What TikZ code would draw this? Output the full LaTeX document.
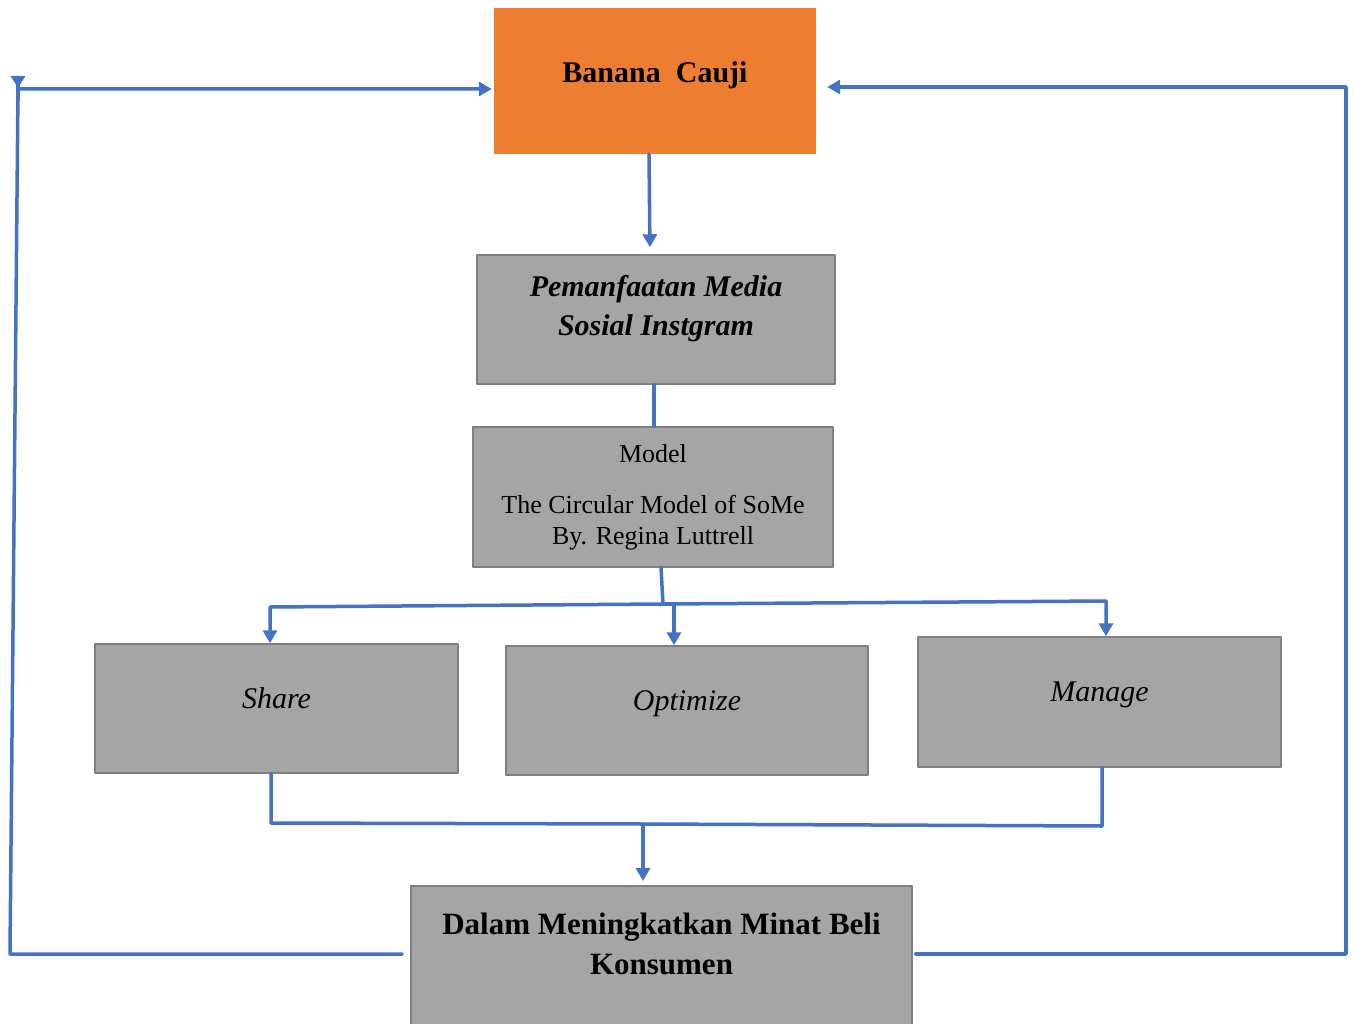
\documentclass[tikz,border=0pt]{standalone}
\usepackage{fontspec}
\setmainfont{Liberation Serif}
\usepackage{tikz}
\usetikzlibrary{arrows.meta}

\definecolor{boxorange}{HTML}{ED7D31}
\definecolor{boxgray}{HTML}{A5A5A5}
\definecolor{boxedge}{HTML}{7F7F7F}
\definecolor{lineblue}{HTML}{4472C4}

\begin{document}
\begin{tikzpicture}[x=1pt,y=-1pt,line cap=round,line join=round,
  topbox/.style={fill=boxorange,draw=none,minimum width=322pt,minimum height=146pt,
    font=\fontsize{30}{40}\selectfont\bfseries,text depth=18pt},
  graybox/.style={fill=boxgray,draw=boxedge,line width=1.5pt,align=center,
    font=\fontsize{30}{40}\selectfont},
  link/.style={draw=lineblue,line width=3.5pt},
  arr/.style={link,-{Triangle[width=14pt,length=13pt]}}]
\useasboundingbox (0,0) rectangle (1354,1024);
% boxes
\node[topbox] (banana) at (655,81) {Banana\ \ Cauji};
\node[graybox,minimum width=358pt,minimum height=129pt,text depth=28pt,
  font=\fontsize{30}{39}\selectfont\bfseries\itshape] (media) at (656,319.5)
  {Pemanfaatan Media\\Sosial Instgram};
\node[graybox,minimum width=360pt,minimum height=140pt,
  font=\fontsize{26}{31}\selectfont] (model) at (653,497)
  {Model\\[20pt]The Circular Model of SoMe\\By. Regina Luttrell};
\node[graybox,minimum width=363pt,minimum height=129pt,text depth=20pt,
  font=\fontsize{30}{40}\selectfont\itshape] (share) at (276.5,708.5) {Share};
\node[graybox,minimum width=362pt,minimum height=129pt,text depth=20pt,
  font=\fontsize{30}{40}\selectfont\itshape] (optimize) at (687,710.5) {Optimize};
\node[graybox,minimum width=363pt,minimum height=130pt,text depth=20pt,
  font=\fontsize{30}{40}\selectfont\itshape] (manage) at (1099.5,702) {Manage};
\node[graybox,anchor=north,minimum width=501pt,inner ysep=27pt,text depth=40pt,
  font=\fontsize{31}{40}\selectfont\bfseries] (minat) at (661.5,885)
  {Dalam Meningkatkan Minat Beli\\Konsumen};
% corner points
\coordinate (split) at (663,604);
\coordinate (sl) at (270,607);
\coordinate (so) at (674,604);
\coordinate (sr) at (1106,601);
\coordinate (bl) at (271,823);
\coordinate (bm) at (643,824);
\coordinate (br) at (1102,826);
\coordinate (ll) at (10,954);
\coordinate (lt) at (18,89);
\coordinate (rb) at (1346,954);
\coordinate (rt) at (1346,87);
% connectors
\draw[arr,shorten >=7pt] ([xshift=-6pt]banana.south) -- ([xshift=-6pt]media.north);
\draw[link] ([xshift=-2pt]media.south) -- ([xshift=1pt]model.north);
\draw[link] ([xshift=8pt]model.south) -- (split);
\draw[arr] (split) -- (sl) -- (sl |- share.north);
\draw[arr] (split) -- (so) -- (so |- optimize.north);
\draw[arr] (split) -- (sr) -- (sr |- manage.north);
\draw[link] (bl |- share.south) -- (bl) -- (bm) -- (br) -- (br |- manage.south);
\draw[arr,shorten >=4pt] (bm) -- (bm |- minat.north);
\draw[arr,shorten <=8pt,shorten >=2pt] (minat.west |- ll) -- (ll) -- (lt) -- (lt -| banana.west);
\draw[link,-{Triangle[reversed,width=14pt,length=12pt]}] (18,100) -- (18,76);
\draw[arr,shorten <=3pt,shorten >=11pt] (minat.east |- rb) -- (rb) -- (rt) -- (rt -| banana.east);
\end{tikzpicture}
\end{document}
